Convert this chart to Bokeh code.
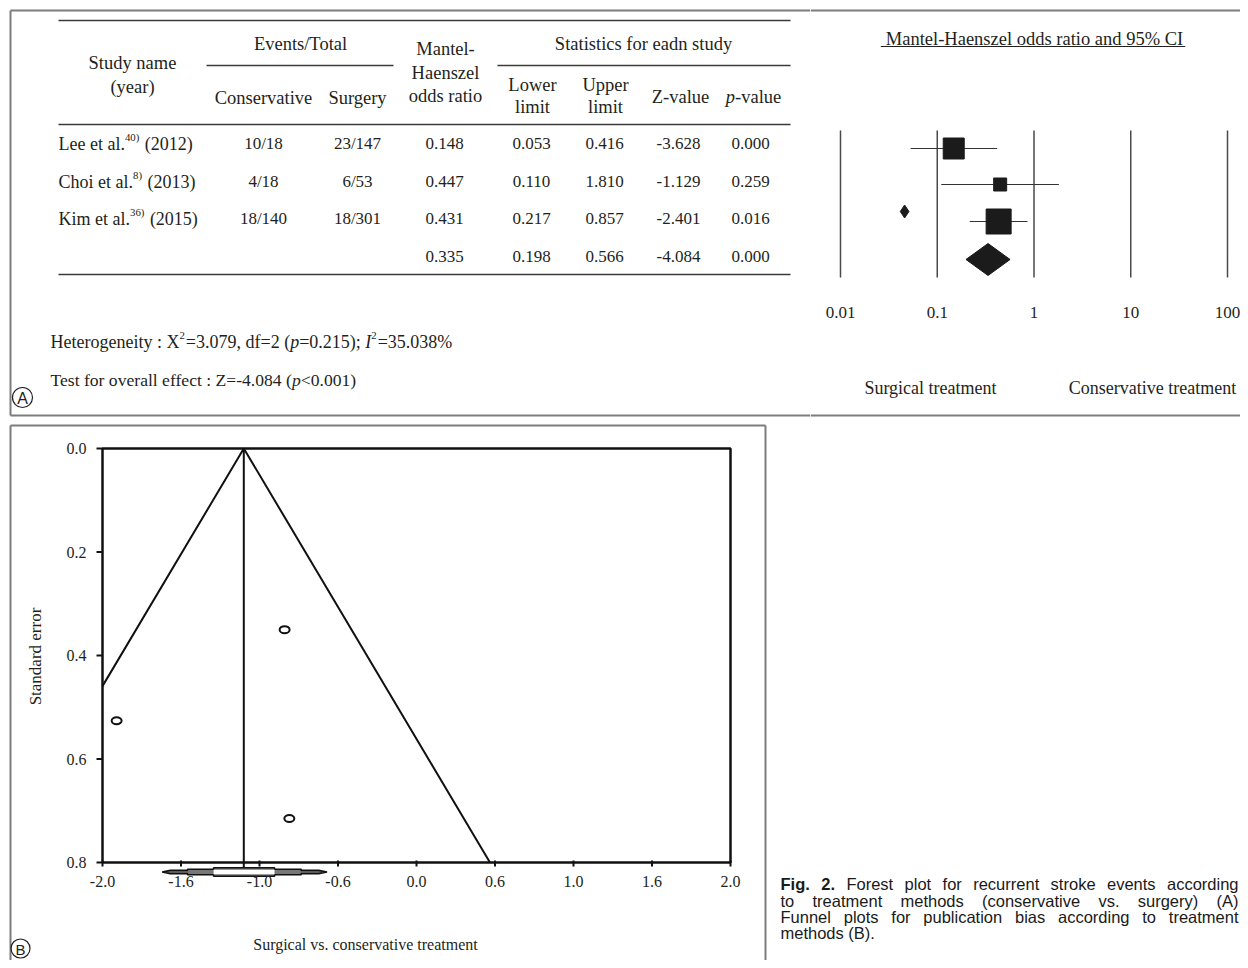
import glob
import os

from bokeh.core.properties import value
from bokeh.embed import file_html
from bokeh.layouts import column, row
from bokeh.models import LogScale, Range1d
from bokeh.plotting import figure
from bokeh.resources import INLINE

# ---------------------------------------------------------------- data
study_names = ["Lee et al.", "Choi et al.", "Kim et al."]
study_refs = ["40)", "8)", "36)"]
study_years = ["(2012)", "(2013)", "(2015)"]
cons_events = [10, 4, 18]
cons_total = [18, 18, 140]
surg_events = [23, 6, 18]
surg_total = [147, 53, 301]
odds_ratio = [0.148, 0.447, 0.431]
lower_limit = [0.053, 0.110, 0.217]
upper_limit = [0.416, 1.810, 0.857]
z_value = [-3.628, -1.129, -2.401]
p_value = [0.000, 0.259, 0.016]
pooled_or = 0.335
pooled_lower = 0.198
pooled_upper = 0.566
pooled_z = -4.084
pooled_p = 0.000
stray_marker_or = [0.046]
forest_ticks = [0.01, 0.1, 1, 10, 100]
forest_tick_labels = ["0.01", "0.1", "1", "10", "100"]

funnel_effect = [-1.91, -0.81, -0.84]      # log odds ratio
funnel_se = [0.526, 0.715, 0.350]          # standard error
funnel_center = -1.10
funnel_ci = [-1.62, -0.57]
z_crit = 1.96
funnel_x_ticks = [-2.0, -1.5, -1.0, -0.5, 0.0, 0.5, 1.0, 1.5, 2.0]
funnel_x_labels = ["-2.0", "-1.6", "-1.0", "-0.6", "0.0", "0.6", "1.0", "1.6", "2.0"]
funnel_y_ticks = [0.0, 0.2, 0.4, 0.6, 0.8]
funnel_y_labels = ["0.0", "0.2", "0.4", "0.6", "0.8"]

caption_lines = [
    "Fig. 2. Forest plot for recurrent stroke events according",
    "to treatment methods (conservative vs. surgery) (A)",
    "Funnel plots for publication bias according to treatment",
    "methods (B).",
]

# ---------------------------------------------------------------- fonts / measuring
INK = "#231f20"
SERIF = "Liberation Serif"


def find_font(name):
    dirs = ["/usr/share/fonts", "/usr/local/share/fonts",
            os.path.expanduser("~/.fonts"), os.path.expanduser("~/.local/share/fonts")]
    for d in dirs:
        hits = glob.glob(os.path.join(d, "**", name), recursive=True)
        if hits:
            return hits[0]
    return None


FONT_FILES = {
    (SERIF, "normal"): find_font("LiberationSerif-Regular.ttf"),
    (SERIF, "italic"): find_font("LiberationSerif-Italic.ttf"),
    ("Liberation Sans", "normal"): find_font("LiberationSans-Regular.ttf"),
    ("Liberation Sans", "bold"): find_font("LiberationSans-Bold.ttf"),
}
_fcache = {}


def measure(s, family, style, size):
    path = FONT_FILES.get((family, style))
    try:
        from PIL import ImageFont
        if path not in _fcache:
            _fcache[path] = ImageFont.truetype(path, 100)
        return _fcache[path].getlength(s) * size / 100.0
    except Exception:
        return len(s) * size * 0.5


def canvas(width, height, xr, yr):
    p = figure(width=width, height=height, x_range=xr, y_range=yr,
               x_axis_type=None, y_axis_type=None, toolbar_location=None,
               output_backend="svg", min_border=0, outline_line_color=None,
               title=None)
    p.background_fill_color = "white"
    p.border_fill_color = "white"
    return p


def put(p, x, y, s, size, align="left", font=SERIF, style="normal",
        color=INK, baseline="middle", angle=0.0):
    p.text(x=[x], y=[y], text=[s], text_font=value(font),
           text_font_size=value(f"{size}px"), text_font_style=style,
           text_align=align, text_baseline=baseline, text_color=color,
           angle=angle)


def put_runs(p, x0, y, runs, size, align="left"):
    items = []
    for s, kind in runs:
        sz = size * 0.6 if kind == "sup" else size
        st = "italic" if kind == "i" else "normal"
        lead = 0.0
        if s.startswith(" "):
            lead = measure(" ", SERIF, st, sz)
            s = s.lstrip(" ")
        w = lead + measure(s, SERIF, st, sz) + (1 if kind == "sup" else 0)
        items.append((s, kind, sz, st, lead, w))
    x = x0 - sum(it[5] for it in items) / 2 if align == "center" else x0
    for s, kind, sz, st, lead, w in items:
        yy = y - size * 0.36 if kind == "sup" else y
        put(p, x + lead, yy, s, sz, style=st)
        x += w


BORDER = "#7d7d7d"
RULE = "#3a3a3a"
TOP_H = 422

# ---------------------------------------------------------------- panel A: table
table = canvas(810, TOP_H, Range1d(0, 810), Range1d(TOP_H, 0))
table.segment(x0=[10, 10, 10], y0=[10, 10, 415], x1=[10, 810, 810], y1=[415, 10, 415],
              line_color=BORDER, line_width=2)
table.segment(x0=[58, 206, 497, 58, 58], x1=[790, 393, 790, 790, 790],
              y0=[20, 65, 65, 124, 274], y1=[20, 65, 65, 124, 274],
              line_color=RULE, line_width=1.4)

HS = 18.5
put(table, 132, 62, "Study name", HS, "center")
put(table, 132, 86, "(year)", HS, "center")
put(table, 300, 43, "Events/Total", HS, "center")
put(table, 263, 97, "Conservative", HS, "center")
put(table, 357, 97, "Surgery", HS, "center")
put(table, 445, 48, "Mantel-", HS, "center")
put(table, 445, 72, "Haenszel", HS, "center")
put(table, 445, 95, "odds ratio", HS, "center")
put(table, 643, 43, "Statistics for eadn study", HS, "center")
put(table, 532, 84, "Lower", HS, "center")
put(table, 532, 106, "limit", HS, "center")
put(table, 605, 84, "Upper", HS, "center")
put(table, 605, 106, "limit", HS, "center")
put(table, 680, 96, "Z-value", HS, "center")
put_runs(table, 753, 96, [("p", "i"), ("-value", "n")], HS, "center")

row_y = [143, 181, 218]
pooled_y = 256
NS = 17
for i in range(len(study_names)):
    y = row_y[i]
    put_runs(table, 58, y, [(study_names[i], "n"), (study_refs[i], "sup"),
                            (" " + study_years[i], "n")], 18)
    put(table, 263, y, f"{cons_events[i]}/{cons_total[i]}", NS, "center")
    put(table, 357, y, f"{surg_events[i]}/{surg_total[i]}", NS, "center")
    put(table, 444, y, f"{odds_ratio[i]:.3f}", NS, "center")
    put(table, 531, y, f"{lower_limit[i]:.3f}", NS, "center")
    put(table, 604, y, f"{upper_limit[i]:.3f}", NS, "center")
    put(table, 678, y, f"{z_value[i]:.3f}", NS, "center")
    put(table, 750, y, f"{p_value[i]:.3f}", NS, "center")
put(table, 444, pooled_y, f"{pooled_or:.3f}", NS, "center")
put(table, 531, pooled_y, f"{pooled_lower:.3f}", NS, "center")
put(table, 604, pooled_y, f"{pooled_upper:.3f}", NS, "center")
put(table, 678, pooled_y, f"{pooled_z:.3f}", NS, "center")
put(table, 750, pooled_y, f"{pooled_p:.3f}", NS, "center")

put_runs(table, 50, 341, [("Heterogeneity : X", "n"), ("2", "sup"), ("=3.079, df=2 (", "n"),
                          ("p", "i"), ("=0.215); ", "n"), ("I", "i"), ("2", "sup"),
                          ("=35.038%", "n")], 18)
put_runs(table, 50, 379, [("Test for overall effect : Z=-4.084 (", "n"), ("p", "i"),
                          ("<0.001)", "n")], 17.6)
table.scatter(x=[22], y=[397], marker="circle", size=20, fill_color=None,
              line_color=INK, line_width=1.2)
put(table, 22, 398, "A", 16, "center", font="Liberation Sans")

# ---------------------------------------------------------------- panel A: forest plot
DEC = 96.75  # pixels per decade


def f_or(px):
    return 10 ** (-2 + (px - 840) / DEC)


forest = canvas(430, TOP_H, Range1d(f_or(810), f_or(1240)), Range1d(TOP_H, 0))
forest.x_scale = LogScale()
forest.segment(x0=[f_or(810)] * 2, x1=[f_or(1240)] * 2, y0=[10, 415], y1=[10, 415],
               line_color=BORDER, line_width=2)
forest.segment(x0=forest_ticks, x1=forest_ticks, y0=130, y1=277,
               line_color="#4a4a4a", line_width=1.5)
forest.text(x=forest_ticks, y=[312] * len(forest_ticks), text=forest_tick_labels,
            text_font=value(SERIF), text_font_size=value("17px"),
            text_align="center", text_baseline="middle", text_color=INK)

TITLE = "Mantel-Haenszel odds ratio and 95% CI"
put(forest, f_or(1034), 38, TITLE, 18.5, "center")
tw = measure(TITLE, SERIF, "normal", 18.5)
forest.segment(x0=[f_or(1034 - tw / 2 - 5)], x1=[f_or(1034 + tw / 2 + 2)], y0=[46], y1=[46],
               line_color=INK, line_width=1)

f_row_y = [148, 184, 221]
f_pooled_y = 259
square_px = [21, 13, 25]
forest.segment(x0=lower_limit, x1=upper_limit, y0=f_row_y, y1=f_row_y,
               line_color="#333333", line_width=1.2)
forest.scatter(x=odds_ratio, y=f_row_y, size=square_px, marker="square",
               fill_color="#1b1b1b", line_color="#1b1b1b")
forest.scatter(x=stray_marker_or, y=[211], size=13, marker="diamond",
               fill_color="#1b1b1b", line_color="#1b1b1b")
forest.patch(x=[pooled_lower, pooled_or, pooled_upper, pooled_or],
             y=[f_pooled_y, f_pooled_y - 16, f_pooled_y, f_pooled_y + 16],
             fill_color="#1b1b1b", line_color="#1b1b1b")
put(forest, f_or(930), 387, "Surgical treatment", 18, "center")
put(forest, f_or(1152), 387, "Conservative treatment", 18, "center")

# ---------------------------------------------------------------- panel B: funnel plot
PXU, PYU = 157.0, 517.5
BOT_H = 960 - TOP_H


def fx(px):
    return -2 + (px - 102) / PXU


def fy(py):
    return (py - 448) / PYU


funnel = canvas(768, BOT_H, Range1d(fx(0), fx(768)), Range1d(fy(960), fy(TOP_H)))
funnel.segment(x0=[fx(10), fx(10), fx(765)], y0=[fy(425), fy(425), fy(425)],
               x1=[fx(10), fx(765), fx(765)], y1=[fy(970), fy(425), fy(970)],
               line_color=BORDER, line_width=2)
funnel.quad(left=[-2], right=[2], top=[0], bottom=[0.8], fill_color=None,
            line_color="#111111", line_width=2.5)
left_se = (funnel_center + 2) / z_crit
funnel.line(x=[-2, funnel_center, funnel_center + z_crit * 0.8], y=[left_se, 0, 0.8],
            line_color="#111111", line_width=2)
funnel.segment(x0=[funnel_center], x1=[funnel_center], y0=[0], y1=[fy(868)],
               line_color="#111111", line_width=2)

# summary (pooled) estimate drawn as a stepped diamond under the axis
lo, hi, c = funnel_ci[0], funnel_ci[1], funnel_center
yc, u = fy(871.5), 1.0 / PYU


def lx(f):
    return c + (lo - c) * f


def rx(f):
    return c + (hi - c) * f


upper_x = [lx(1), lx(0.9), lx(0.69), lx(0.69), lx(0.37), lx(0.37),
           rx(0.37), rx(0.37), rx(0.69), rx(0.69), rx(0.9), rx(1)]
upper_y = [yc, yc - 1.6 * u, yc - 1.6 * u, yc - 2.8 * u, yc - 2.8 * u, yc - 4.2 * u,
           yc - 4.2 * u, yc - 2.8 * u, yc - 2.8 * u, yc - 1.6 * u, yc - 1.6 * u, yc]
lower_y = [2 * yc - v for v in upper_y]
funnel.patch(x=upper_x + upper_x[::-1], y=upper_y + lower_y[::-1],
             fill_color="#777777", line_color="#111111", line_width=1.6)
funnel.quad(left=[lx(0.37)], right=[rx(0.37)], top=[yc - 2.2 * u], bottom=[yc + 2.2 * u],
            fill_color="white", line_color=None)

funnel.ellipse(x=funnel_effect, y=funnel_se, width=10, height=7,
               width_units="screen", height_units="screen", fill_color=None,
               line_color="#111111", line_width=2)

funnel.segment(x0=-2, x1=fx(96), y0=funnel_y_ticks, y1=funnel_y_ticks,
               line_color="#111111", line_width=2)
funnel.segment(x0=funnel_x_ticks, x1=funnel_x_ticks, y0=fy(860), y1=fy(866),
               line_color="#111111", line_width=2)
funnel.text(x=[fx(86)] * len(funnel_y_ticks), y=funnel_y_ticks, text=funnel_y_labels,
            text_font=value(SERIF), text_font_size=value("16px"),
            text_align="right", text_baseline="middle", text_color=INK)
funnel.text(x=funnel_x_ticks, y=[fy(881)] * len(funnel_x_ticks), text=funnel_x_labels,
            text_font=value(SERIF), text_font_size=value("16px"),
            text_align="center", text_baseline="middle", text_color=INK)
put(funnel, fx(35), fy(656), "Standard error", 17, "center", angle=1.5707963)
put(funnel, fx(365), fy(944), "Surgical vs. conservative treatment", 16, "center")
funnel.scatter(x=[fx(20)], y=[fy(948)], marker="circle", size=19, fill_color=None,
               line_color=INK, line_width=1.2)
put(funnel, fx(20), fy(949), "B", 15, "center", font="Liberation Sans")

# ---------------------------------------------------------------- caption
caption = canvas(472, BOT_H, Range1d(768, 1240), Range1d(960, TOP_H))
CFONT, CSIZE = "Liberation Sans", 16.5
CX0, CX1 = 780, 1238
cap_y = [883, 900, 916, 932]
for li, line in enumerate(caption_lines):
    words = line.split(" ")
    styles = ["bold" if (li == 0 and wi < 2) else "normal" for wi in range(len(words))]
    widths = [measure(w, CFONT, st, CSIZE) for w, st in zip(words, styles)]
    if li < len(caption_lines) - 1:
        gap = (CX1 - CX0 - sum(widths)) / (len(words) - 1)
    else:
        gap = measure(" ", CFONT, "normal", CSIZE)
    x = CX0
    for w, st, wd in zip(words, styles, widths):
        put(caption, x, cap_y[li], w, CSIZE, font=CFONT, style=st, color="#1a1a1a")
        x += wd + gap

layout = column(row(table, forest), row(funnel, caption))
open("out.html", "w").write(file_html(layout, INLINE))
